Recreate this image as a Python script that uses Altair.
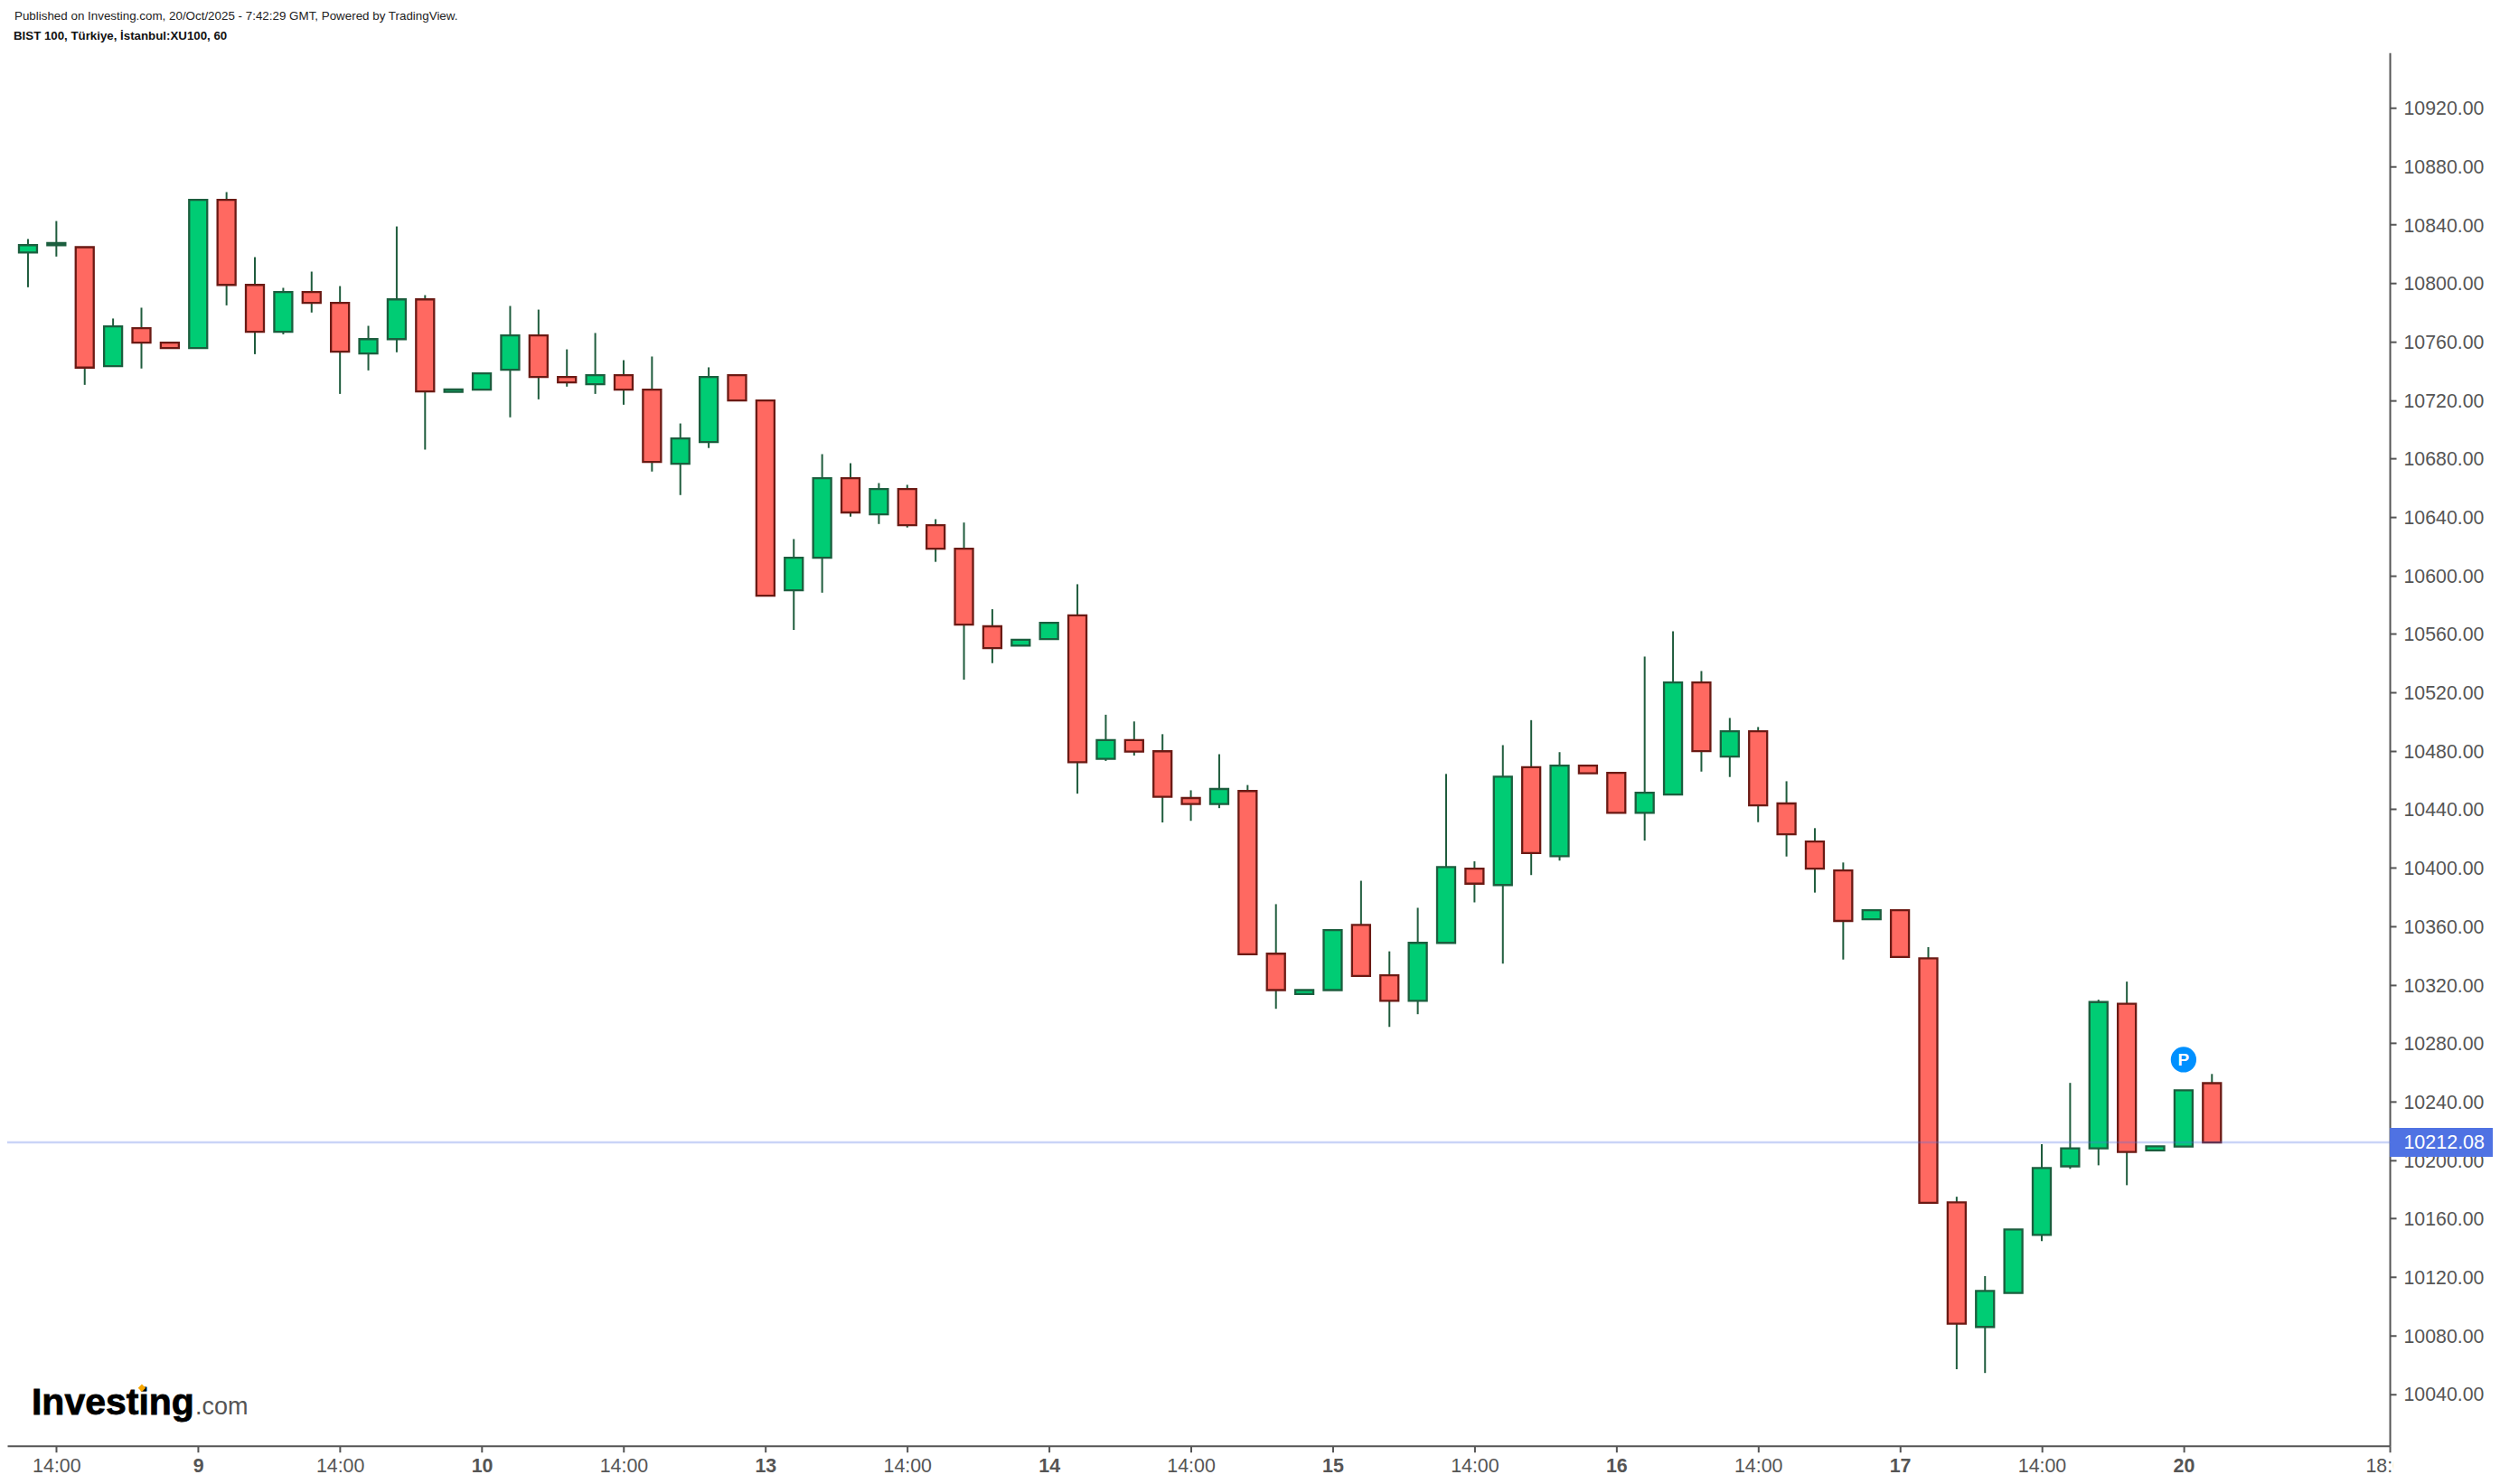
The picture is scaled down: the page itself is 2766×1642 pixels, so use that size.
import altair as alt
import pandas as pd

opens = [10821,10826,10824.6,10743.2,10769.2,10759.3,10755.6,10857,10798.8,10766.7,10793.9,10786.5,10751.9,10761.7,10788.9,10725.6,10727.1,10740.7,10764.2,10735.8,10730.8,10737,
10727.1,10676.4,10691.3,10737,10719.7,10589.9,10612.1,10666.5,10641.8,10659.1,10634.4,10618.3,10565.2,10552,10556.5,
10572.7,10474.5,10487.3,10479.7,10447.7,10443.6,10452.5,10341.2,10313.6,10316.3,10360.9,10326.4,10309,10348.6,10399.4,10388.2,10468.8,10407.9,10469.9,10464.9,10437.6,
10450.1,10526.8,10476.1,10493.4,10444,10418,10398.2,10364.8,10371,10338,10171,10085.8,10109.1,10148.8,10195.7,10208,10306.9,10206.6,10209.2,10252.6]
closes = [10826,10827.4,10742.2,10770.4,10759.3,10755.6,10857,10798.8,10766.7,10793.9,10786.5,10753.1,10761.7,10788.9,10725.9,10727.3,10738.3,10764.2,10735.8,10732.1,10737,10727.1,
10677.7,10693.7,10735.8,10719.7,10586.2,10612.1,10666.5,10643.1,10659.1,10634.4,10618.3,10566.4,10550.3,10556,10567.6,
10472.2,10487.3,10479.5,10448.6,10443.6,10453.9,10340.8,10316.3,10316.3,10357.3,10325.9,10309,10348.6,10400.5,10389.1,10462.3,10410.1,10469.9,10464.6,10437.6,10451.4,
10526.8,10479.8,10493.4,10442.7,10422.9,10399.4,10363.6,10371,10338.9,10170.7,10088.1,10110.5,10152.5,10194.5,10208,10308.1,10205.5,10209.4,10247.7,10212.08]
highs = [10830.2,10842.5,10824.6,10775.8,10783.2,10759.3,10857,10862.3,10817.8,10796.8,10807.9,10798,10770.8,10838.8,10791.8,10727.3,10738.3,10784.4,10781.9,10754.7,10765.9,10747.3,
10749.8,10704,10742.4,10737,10719.7,10624.9,10683,10676.8,10663.2,10662,10638.5,10636.2,10576.9,10556,10567.6,
10594,10504.7,10500.1,10491.4,10453,10477.7,10456.6,10375.1,10316.3,10357.3,10391.1,10342.8,10372.6,10464.2,10404.4,10483.9,10501,10479.1,10469.9,10464.9,10544.5,
10561.8,10534.6,10502.5,10496.3,10459.2,10427.1,10403.6,10371,10371,10345.6,10174.9,10120.6,10152.5,10210.8,10252.8,10309.7,10322.1,10209.4,10247.7,10258.9]
lows = [10797.2,10818.2,10730.4,10743.2,10741.6,10755.6,10755.6,10784.8,10751.4,10765,10779.9,10724.2,10740.3,10752.7,10686.1,10725.6,10727.1,10708.2,10720.5,10729.2,10724.2,10716.8,
10671.1,10655,10687.2,10719.7,10586.2,10562.7,10588.2,10640.2,10635.2,10632.8,10609.3,10528.7,10540,10552,10556.5,
10450.7,10473.1,10476.8,10431,10432.1,10440.8,10340.8,10303.5,10313.6,10316.3,10325.9,10291.1,10299.8,10348.6,10376.3,10334.4,10395,10404.9,10464.6,10437.6,10418.6,
10450.1,10465.8,10462.1,10431.2,10407.7,10383,10337.2,10364.8,10338.9,10170.7,10056.9,10054.3,10109.1,10144.6,10194,10196.4,10182.8,10206.6,10209.2,10212.08]

x_tick_positions = [1,6,11,16,21,26,31,36,41,46,51,56,61,66,71,76,83.26]
x_tick_labels = ["14:00","9","14:00","10","14:00","13","14:00","14","14:00","15","14:00","16","14:00","17","14:00","20","18:00"]
day_positions = [6,16,26,36,46,56,66,76]
y_ticks = list(range(10040, 10921, 40))

last_price = 10212.08
marker_index, marker_value = 76, 10268.7
header_lines = ["Published on Investing.com, 20/Oct/2025 - 7:42:29 GMT, Powered by TradingView.",
                "BIST 100, Türkiye, İstanbul:XU100, 60"]

FONT = "Liberation Sans"
AXIS = "#555555"
W, H = 2637, 1542

df = pd.DataFrame({"i": range(len(opens)), "o": opens, "c": closes, "h": highs, "l": lows})
df["dir"] = ["up" if c >= o else "down" for o, c in zip(opens, closes)]

label_map = ",".join(f"'{p}':'{l}'" for p, l in zip(x_tick_positions, x_tick_labels))
xs = alt.Scale(domain=[-0.732, 83.27], nice=False, zero=False, padding=0)
ys = alt.Scale(domain=[10004.5, 10957.7], nice=False, zero=False)

x_enc = alt.X("i:Q", scale=xs, title=None, axis=alt.Axis(
    values=x_tick_positions, labelExpr="{" + label_map + "}[datum.value]",
    grid=False, domainColor=AXIS, domainWidth=2, tickColor=AXIS, tickWidth=2, tickSize=7,
    labelColor=AXIS, labelFont=FONT, labelFontSize=21.4, labelPadding=5, labelOverlap=False, labelFlush=False,
    labelFontWeight=alt.expr(f"indexof({day_positions}, datum.value) >= 0 ? 'bold' : 'normal'")))
y_enc = alt.Y("l:Q", scale=ys, title=None, axis=alt.Axis(
    orient="right", values=y_ticks, format=".2f", grid=False,
    domainColor=AXIS, domainWidth=2, tickColor=AXIS, tickWidth=2, tickSize=7,
    labelColor=AXIS, labelFont=FONT, labelFontSize=21.3, labelPadding=8, labelOffset=1.5, labelOverlap=False, labelFlush=False))

wicks = alt.Chart(df).mark_rule(color="#1f5c3d", strokeWidth=2).encode(x=x_enc, y=y_enc, y2="h:Q")
bodies = alt.Chart(df).mark_bar(size=20, strokeWidth=2.3, orient="vertical").encode(
    x=alt.X("i:Q", scale=xs),
    y=alt.Y("o:Q", scale=ys),
    y2="c:Q",
    fill=alt.Fill("dir:N", scale=alt.Scale(domain=["up", "down"], range=["#00cc74", "#ff6961"]), legend=None),
    stroke=alt.Stroke("dir:N", scale=alt.Scale(domain=["up", "down"], range=["#1b5e3e", "#6b1a14"]), legend=None),
)

price_df = pd.DataFrame({"v": [last_price], "lo": [last_price - 9.9], "hi": [last_price + 9.9], "t": [f"{last_price:.2f}"]})
price_line = alt.Chart(price_df).mark_rule(color="#4f72e3", opacity=0.3, strokeWidth=2.5).encode(
    y=alt.Y("v:Q", scale=ys), x=alt.value(0), x2=alt.value(W))
price_tag = alt.Chart(price_df).mark_rect(color="#4f72e3").encode(
    y=alt.Y("lo:Q", scale=ys), y2="hi:Q", x=alt.value(W), x2=alt.value(W + 114))
price_tick = alt.Chart(price_df).mark_rule(color="#c9d5f6", strokeWidth=2).encode(
    y=alt.Y("v:Q", scale=ys), x=alt.value(W), x2=alt.value(W + 6))
price_text = alt.Chart(price_df).mark_text(color="white", font=FONT, fontSize=21.5, align="right", baseline="middle", dy=1).encode(
    y=alt.Y("v:Q", scale=ys), x=alt.value(W + 105), text="t:N")

marker_df = pd.DataFrame({"i": [marker_index], "v": [marker_value], "t": ["P"]})
marker = alt.Chart(marker_df).mark_point(filled=True, shape="circle", size=800, color="#0090ff", opacity=1).encode(
    x=alt.X("i:Q", scale=xs), y=alt.Y("v:Q", scale=ys))
marker_text = alt.Chart(marker_df).mark_text(color="white", font=FONT, fontWeight="bold", fontSize=19, baseline="middle", dy=1).encode(
    x=alt.X("i:Q", scale=xs), y=alt.Y("v:Q", scale=ys), text="t:N")

# covers the part of the last x label that the reference clips at the price axis
clip_cover = alt.Chart(price_df).mark_rect(color="white").encode(
    x=alt.value(W + 4), x2=alt.value(W + 70), y=alt.value(H + 3), y2=alt.value(H + 34))

def label(text, x, y, **kw):
    return alt.Chart(pd.DataFrame({"t": [text]})).mark_text(font=FONT, align="left", baseline="alphabetic", **kw).encode(
        x=alt.value(x), y=alt.value(y), text="t:N")

head1 = label(header_lines[0], 8, -36, fontSize=13.4, color="#222222")
head2 = label(header_lines[1], 7, -14, fontSize=13.3, fontWeight="bold", color="#111111")
logo1 = label("Investing", 27, 1507, fontSize=41, fontWeight="bold", color="#000000", stroke="#000000", strokeWidth=0.8)
logo2 = label(".com", 208, 1507, fontSize=27, color="#555555")
logo_dot = alt.Chart(pd.DataFrame({"t": ["."]})).mark_point(filled=True, shape="diamond", size=70, color="#f7a600", opacity=1).encode(
    x=alt.value(149), y=alt.value(1478))

chart = alt.layer(
    wicks, bodies, price_line, price_tick, price_tag, price_text, marker, marker_text, clip_cover,
    head1, head2, logo1, logo2, logo_dot
).resolve_scale(fill="independent", stroke="independent").properties(
    width=W, height=H,
    padding={"left": 0, "top": 50, "right": 114, "bottom": 34},
    autosize=alt.AutoSizeParams(type="none", contains="content"),
    background="white",
).configure_view(stroke=None)

chart.save("out.html", embed_options={"renderer": "svg", "actions": False})
